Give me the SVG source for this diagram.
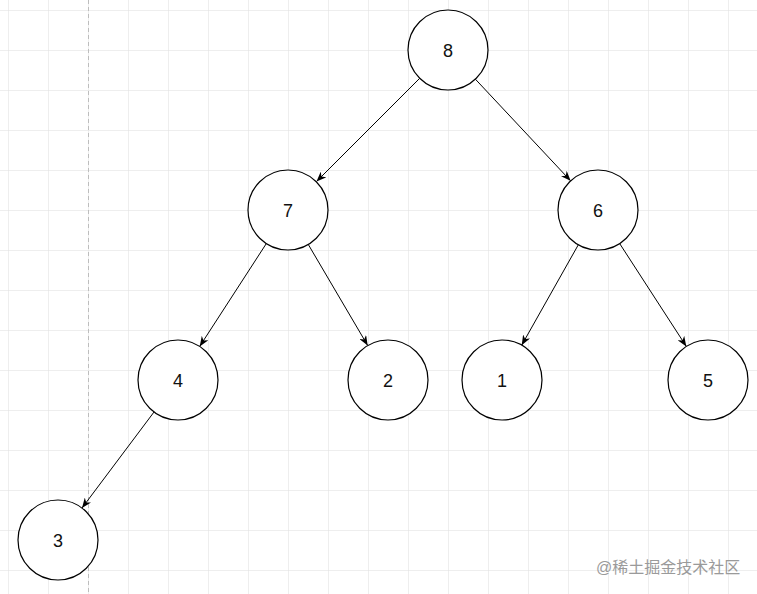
<svg xmlns="http://www.w3.org/2000/svg" width="757" height="594" viewBox="0 0 757 594">
<style>
.node circle{fill:#fff;stroke:#000;stroke-width:1.2}
.node text{font-family:"Liberation Sans",Arial,sans-serif;font-size:18px;fill:#111;text-anchor:middle}
.edge{stroke:#000;stroke-width:1;fill:none;marker-end:url(#arr)}
</style>
<defs>
<pattern id="grid" x="8" y="10" width="40" height="40" patternUnits="userSpaceOnUse">
<path d="M0 0H40M0 0V40" stroke="#dedede" stroke-width="1" fill="none"/>
</pattern>
<marker id="arr" viewBox="0 0 10 8" refX="10" refY="4" markerWidth="10" markerHeight="8" markerUnits="userSpaceOnUse" orient="auto">
<path d="M0 0L10 4L0 8L3 4Z" fill="#000"/>
</marker>
</defs>
<rect width="757" height="594" fill="#fff"/>
<rect width="757" height="594" fill="url(#grid)"/>
<line x1="88.5" y1="0" x2="88.5" y2="594" stroke="#bdbdbd" stroke-width="1" stroke-dasharray="4 3"/>
<g id="connectors">
<line class="edge" x1="419.7" y1="78.3" x2="316.5" y2="181.5"/>
<line class="edge" x1="475.4" y1="79.2" x2="570.6" y2="180.8"/>
<line class="edge" x1="266.3" y1="243.6" x2="199.7" y2="346.4"/>
<line class="edge" x1="308.3" y1="244.5" x2="367.7" y2="345.5"/>
<line class="edge" x1="578.3" y1="244.8" x2="521.7" y2="345.2"/>
<line class="edge" x1="619.7" y1="243.6" x2="686.3" y2="346.4"/>
<line class="edge" x1="154" y1="412" x2="82" y2="508"/>
</g>
<g id="n8" class="node"><circle cx="448" cy="50" r="40"/><text x="448" y="56.5">8</text></g>
<g id="n7" class="node"><circle cx="288" cy="210" r="40"/><text x="288" y="216.5">7</text></g>
<g id="n6" class="node"><circle cx="598" cy="210" r="40"/><text x="598" y="216.5">6</text></g>
<g id="n4" class="node"><circle cx="178" cy="380" r="40"/><text x="178" y="386.5">4</text></g>
<g id="n2" class="node"><circle cx="388" cy="380" r="40"/><text x="388" y="386.5">2</text></g>
<g id="n1" class="node"><circle cx="502" cy="380" r="40"/><text x="502" y="386.5">1</text></g>
<g id="n5" class="node"><circle cx="708" cy="380" r="40"/><text x="708" y="386.5">5</text></g>
<g id="n3" class="node"><circle cx="58" cy="540" r="40"/><text x="58" y="546.5">3</text></g>
<text x="596" y="573" font-family="'Liberation Sans','Noto Sans CJK SC',sans-serif" font-size="16" fill="#9a9a9a">@稀土掘金技术社区</text>
</svg>
